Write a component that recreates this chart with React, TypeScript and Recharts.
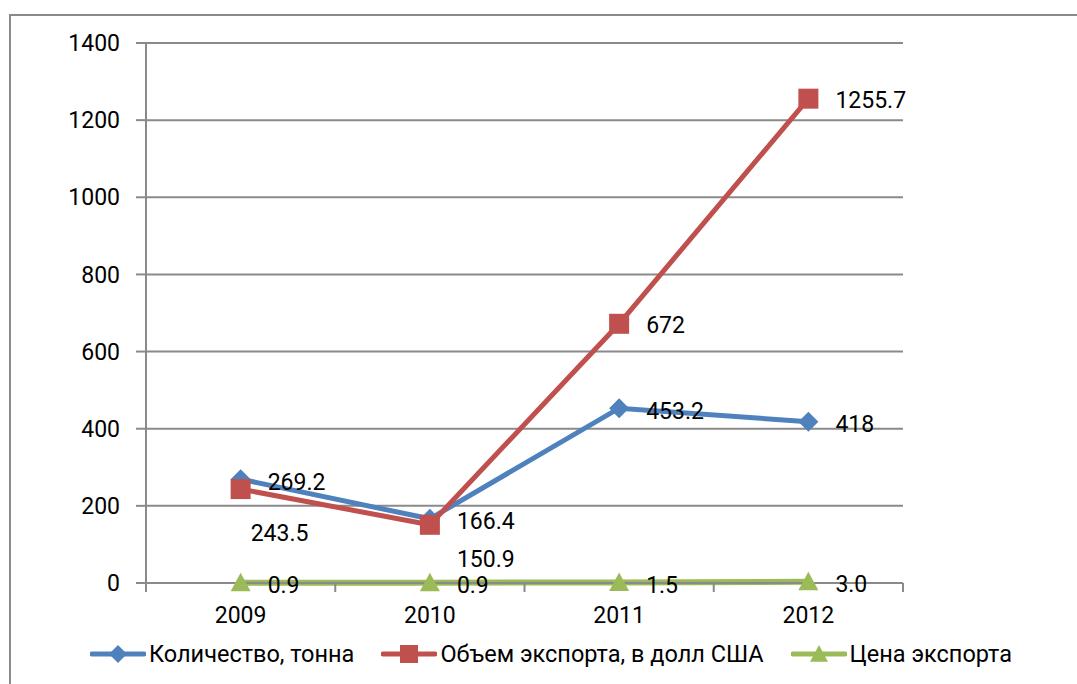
import { LineChart, Line, XAxis, YAxis, CartesianGrid, LabelList } from 'recharts'

const years = ['2009', '2010', '2011', '2012']
const quantity = [269.2, 166.4, 453.2, 418]
const exportVolume = [243.5, 150.9, 672, 1255.7]
const exportPrice = [0.9, 0.9, 1.5, 3.0]
const yTicks = [0, 200, 400, 600, 800, 1000, 1200, 1400]

const seriesNames = ['Количество, тонна', 'Объем экспорта, в долл США', 'Цена экспорта']

const BLUE = '#4F81BD'
const RED = '#C0504D'
const GREEN = '#9BBB59'
const GRID = '#8a8a8a'
const FONT = 'Roboto, sans-serif'
const FONT_SIZE = 23
const X_TICK_MARGIN = 24

const data = years.map((year, i) => ({
  year,
  quantity: quantity[i],
  volume: exportVolume[i],
  price: exportPrice[i],
}))

function Diamond({ cx, cy, fill, r = 10 }: any) {
  return <path d={`M${cx},${cy - r}L${cx + r},${cy}L${cx},${cy + r}L${cx - r},${cy}Z`} fill={fill} />
}

function Square({ cx, cy, fill, r = 10 }: any) {
  return <rect x={cx - r} y={cy - r} width={r * 2} height={r * 2} fill={fill} />
}

function Triangle({ cx, cy, fill, r = 10 }: any) {
  return <path d={`M${cx},${cy - r}L${cx + r},${cy + r * 0.85}L${cx - r},${cy + r * 0.85}Z`} fill={fill} />
}

const labelText = { fontFamily: FONT, fontSize: FONT_SIZE, fill: '#000' }

// category label in the middle of the band, tick marks on the band edges
function YearTick(props: any) {
  const { x, y, payload, index, visibleTicksCount } = props
  const half = payload.offset ?? 0
  const axisY = y - X_TICK_MARGIN
  const last = index === visibleTicksCount - 1
  return (
    <g>
      <line x1={x - half} x2={x - half} y1={axisY} y2={axisY + 9} stroke={GRID} strokeWidth={2} />
      {last && <line x1={x + half} x2={x + half} y1={axisY} y2={axisY + 9} stroke={GRID} strokeWidth={2} />}
      <text x={x} y={y} textAnchor="middle" dy="0.71em" {...labelText}>
        {payload.value}
      </text>
    </g>
  )
}

function rightLabel(format: (v: number) => string) {
  return (props: any) => {
    const { x, y, value, index } = props
    return (
      <text key={index} x={x + 27} y={y + 3} dominantBaseline="central" {...labelText}>
        {format(value)}
      </text>
    )
  }
}

// Excel moved the first two volume labels under their points
const volumeLabelShift: Record<number, [number, number]> = { 0: [10, 44], 1: [27, 35] }

function volumeLabel(props: any) {
  const { x, y, value, index } = props
  const [dx, dy] = volumeLabelShift[index] ?? [27, 2]
  return (
    <text key={index} x={x + dx} y={y + dy} dominantBaseline="central" {...labelText}>
      {String(value)}
    </text>
  )
}

function LegendIcon({ color, Marker }: { color: string; Marker: any }) {
  return (
    <svg width={56} height={22} style={{ display: 'block' }}>
      <line x1={2} y1={11} x2={54} y2={11} stroke={color} strokeWidth={5} strokeLinecap="round" />
      <Marker cx={28} cy={11} fill={color} r={9} />
    </svg>
  )
}

export default function App() {
  const legendItems = [
    { name: seriesNames[0], color: BLUE, Marker: Diamond },
    { name: seriesNames[1], color: RED, Marker: Square },
    { name: seriesNames[2], color: GREEN, Marker: Triangle },
  ]

  return (
    <div style={{ position: 'absolute', left: 0, top: 0, width: 1077, height: 684, overflow: 'hidden', background: '#fff' }}>
      <div style={{ position: 'absolute', left: 9, top: 14, width: 1200, height: 800, border: `2px solid ${GRID}` }} />
      <div style={{ position: 'absolute', left: 0, top: 0 }}>
        <LineChart width={1077} height={684} data={data} margin={{ top: 43, right: 174, left: 0, bottom: 61 }}>
          <CartesianGrid vertical={false} stroke={GRID} strokeWidth={2} />
          <XAxis
            dataKey="year"
            scale="band"
            height={40}
            tickSize={0}
            tickMargin={X_TICK_MARGIN}
            tickLine={false}
            axisLine={{ stroke: GRID, strokeWidth: 2 }}
            tick={<YearTick />}
          />
          <YAxis
            width={146}
            domain={[0, 1400]}
            ticks={yTicks}
            tickSize={10}
            tickMargin={16}
            axisLine={{ stroke: GRID, strokeWidth: 2 }}
            tickLine={{ stroke: GRID, strokeWidth: 2 }}
            tick={{ fontFamily: FONT, fontSize: FONT_SIZE, fill: '#000' }}
          />
          <Line
            dataKey="quantity"
            stroke={BLUE}
            strokeWidth={5}
            isAnimationActive={false}
            dot={(p: any) => <Diamond key={p.index} cx={p.cx} cy={p.cy} fill={BLUE} r={10} />}
          >
            <LabelList dataKey="quantity" content={rightLabel((v) => String(v))} />
          </Line>
          <Line
            dataKey="volume"
            stroke={RED}
            strokeWidth={5}
            isAnimationActive={false}
            dot={(p: any) => <Square key={p.index} cx={p.cx} cy={p.cy} fill={RED} r={10} />}
          >
            <LabelList dataKey="volume" content={volumeLabel} />
          </Line>
          <Line
            dataKey="price"
            stroke={GREEN}
            strokeWidth={6}
            isAnimationActive={false}
            dot={(p: any) => <Triangle key={p.index} cx={p.cx} cy={p.cy} fill={GREEN} r={10} />}
          >
            <LabelList dataKey="price" content={rightLabel((v) => v.toFixed(1))} />
          </Line>
        </LineChart>
      </div>
      <div style={{ position: 'absolute', left: 90, top: 640, display: 'flex', alignItems: 'center', fontFamily: FONT, fontSize: 23.5 }}>
        {legendItems.map((item) => (
          <div key={item.name} style={{ display: 'flex', alignItems: 'center', marginRight: 27 }}>
            <LegendIcon color={item.color} Marker={item.Marker} />
            <span style={{ marginLeft: 3, whiteSpace: 'nowrap' }}>{item.name}</span>
          </div>
        ))}
      </div>
    </div>
  )
}
